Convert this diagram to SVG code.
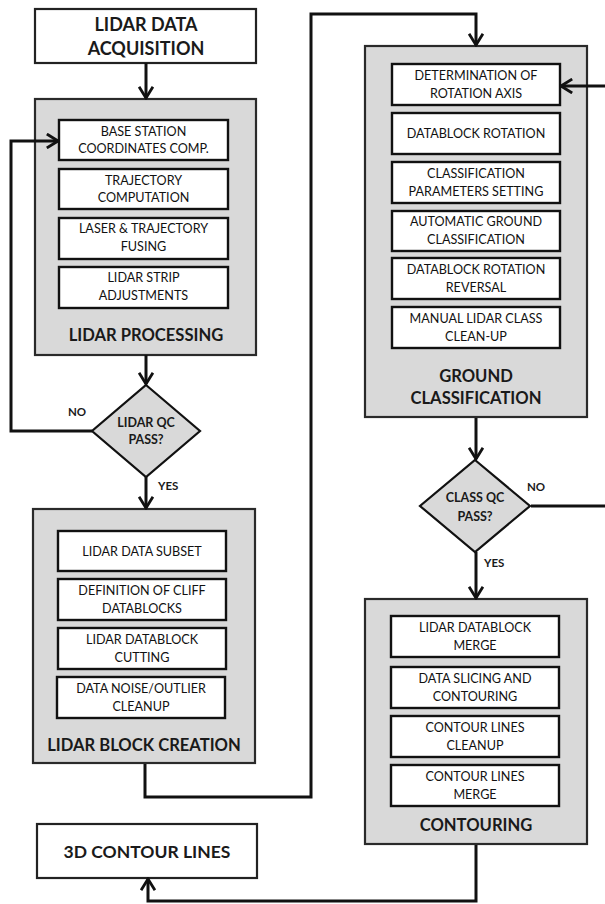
<svg xmlns="http://www.w3.org/2000/svg" width="605" height="904" viewBox="0 0 605 904">
  <defs>
    <marker id="arrow" viewBox="0 0 14 16" refX="12" refY="8" markerWidth="14" markerHeight="16" markerUnits="userSpaceOnUse" orient="auto">
      <path d="M2,1.8 L12,8 L2,14.2" fill="none" stroke="#111" stroke-width="2.8" stroke-linecap="square" stroke-linejoin="miter"/>
    </marker>
  </defs>
  <style>
    .bg { fill: #ffffff; }
    .term { fill: #ffffff; stroke: #222; stroke-width: 2.2; }
    .stage { fill: #d9d9d9; stroke: #2a2a2a; stroke-width: 2.2; }
    .step { fill: #ffffff; stroke: #111; stroke-width: 2.4; }
    .dec { fill: #d9d9d9; stroke: #111; stroke-width: 2.2; }
    .wire { fill: none; stroke: #111; stroke-width: 3; stroke-linejoin: miter; }
    text { font-family: Lato, "Open Sans", "Liberation Sans", sans-serif; fill: #1a1a1a; text-anchor: middle; }
    .big { font-size: 18px; font-weight: 700; }
    .title { font-size: 16.6px; font-weight: 700; }
    .end { font-size: 17.5px; font-weight: 700; }
    .lbl { font-size: 12.6px; font-weight: 400; fill: #111; }
    .q { font-size: 12.5px; font-weight: 700; }
    .yn { font-size: 11.5px; font-weight: 700; text-anchor: start; }
  </style>

  <rect class="bg" x="0" y="0" width="605" height="904"/>

  <!-- start -->
  <g id="acquisition">
    <rect class="term" x="35" y="9" width="221" height="54"/>
    <text class="big" x="146" y="31">LIDAR DATA</text>
    <text class="big" x="146" y="55">ACQUISITION</text>
  </g>

  <!-- stage 1 -->
  <g id="lidar-processing">
    <rect class="stage" x="35" y="99" width="221" height="256"/>
    <text class="title" x="146" y="341">LIDAR PROCESSING</text>
  </g>
  <g id="base-station">
    <rect class="step" x="59" y="120" width="169" height="40"/>
    <text class="lbl" x="143.5" y="136">BASE STATION</text>
    <text class="lbl" x="143.5" y="153">COORDINATES COMP.</text>
  </g>
  <g id="trajectory">
    <rect class="step" x="59" y="169" width="169" height="40"/>
    <text class="lbl" x="143.5" y="185">TRAJECTORY</text>
    <text class="lbl" x="143.5" y="202">COMPUTATION</text>
  </g>
  <g id="fusing">
    <rect class="step" x="59" y="218" width="169" height="41"/>
    <text class="lbl" x="143.5" y="233">LASER &amp; TRAJECTORY</text>
    <text class="lbl" x="143.5" y="251">FUSING</text>
  </g>
  <g id="strip-adjust">
    <rect class="step" x="59" y="267" width="169" height="41"/>
    <text class="lbl" x="143.5" y="282">LIDAR STRIP</text>
    <text class="lbl" x="143.5" y="300">ADJUSTMENTS</text>
  </g>

  <!-- decision 1 -->
  <g id="lidar-qc">
    <polygon class="dec" points="146,385 200,431 146,477 92,431"/>
    <text class="q" x="146" y="427">LIDAR QC</text>
    <text class="q" x="146" y="444">PASS?</text>
    <text class="yn" x="68" y="416">NO</text>
    <text class="yn" x="158" y="490">YES</text>
  </g>

  <!-- stage 2 -->
  <g id="block-creation">
    <rect class="stage" x="33" y="509" width="222" height="254"/>
    <text class="title" x="144" y="751">LIDAR BLOCK CREATION</text>
  </g>
  <g id="data-subset">
    <rect class="step" x="58" y="531" width="168" height="40"/>
    <text class="lbl" x="142" y="556">LIDAR DATA SUBSET</text>
  </g>
  <g id="cliff-datablocks">
    <rect class="step" x="58" y="579" width="168" height="41"/>
    <text class="lbl" x="142" y="595">DEFINITION OF CLIFF</text>
    <text class="lbl" x="142" y="613">DATABLOCKS</text>
  </g>
  <g id="datablock-cutting">
    <rect class="step" x="58" y="628" width="168" height="41"/>
    <text class="lbl" x="142" y="644">LIDAR DATABLOCK</text>
    <text class="lbl" x="142" y="662">CUTTING</text>
  </g>
  <g id="noise-cleanup">
    <rect class="step" x="57" y="677" width="168" height="41"/>
    <text class="lbl" x="141" y="693">DATA NOISE/OUTLIER</text>
    <text class="lbl" x="141" y="711">CLEANUP</text>
  </g>

  <!-- stage 3 -->
  <g id="ground-classification">
    <rect class="stage" x="365" y="46" width="222" height="371"/>
    <text class="title" x="476" y="382">GROUND</text>
    <text class="title" x="476" y="404">CLASSIFICATION</text>
  </g>
  <g id="rotation-axis">
    <rect class="step" x="392" y="64" width="168" height="41"/>
    <text class="lbl" x="476" y="80">DETERMINATION OF</text>
    <text class="lbl" x="476" y="98">ROTATION AXIS</text>
  </g>
  <g id="rotation">
    <rect class="step" x="392" y="113" width="168" height="41"/>
    <text class="lbl" x="476" y="138">DATABLOCK ROTATION</text>
  </g>
  <g id="param-setting">
    <rect class="step" x="392" y="162" width="168" height="41"/>
    <text class="lbl" x="476" y="178">CLASSIFICATION</text>
    <text class="lbl" x="476" y="196">PARAMETERS SETTING</text>
  </g>
  <g id="auto-ground">
    <rect class="step" x="392" y="211" width="168" height="40"/>
    <text class="lbl" x="476" y="226">AUTOMATIC GROUND</text>
    <text class="lbl" x="476" y="244">CLASSIFICATION</text>
  </g>
  <g id="rotation-reversal">
    <rect class="step" x="392" y="258" width="168" height="41"/>
    <text class="lbl" x="476" y="274">DATABLOCK ROTATION</text>
    <text class="lbl" x="476" y="292">REVERSAL</text>
  </g>
  <g id="manual-cleanup">
    <rect class="step" x="392" y="307" width="168" height="41"/>
    <text class="lbl" x="476" y="323">MANUAL LIDAR CLASS</text>
    <text class="lbl" x="476" y="341">CLEAN-UP</text>
  </g>

  <!-- decision 2 -->
  <g id="class-qc">
    <polygon class="dec" points="475,460 530,506 475,552 420,506"/>
    <text class="q" x="475" y="502">CLASS QC</text>
    <text class="q" x="475" y="521">PASS?</text>
    <text class="yn" x="527" y="491">NO</text>
    <text class="yn" x="484" y="567">YES</text>
  </g>

  <!-- stage 4 -->
  <g id="contouring">
    <rect class="stage" x="365" y="599" width="222" height="245"/>
    <text class="title" x="476" y="831">CONTOURING</text>
  </g>
  <g id="block-merge">
    <rect class="step" x="391" y="616" width="168" height="41"/>
    <text class="lbl" x="475" y="632">LIDAR DATABLOCK</text>
    <text class="lbl" x="475" y="650">MERGE</text>
  </g>
  <g id="slicing">
    <rect class="step" x="391" y="667" width="168" height="41"/>
    <text class="lbl" x="475" y="683">DATA SLICING AND</text>
    <text class="lbl" x="475" y="701">CONTOURING</text>
  </g>
  <g id="lines-cleanup">
    <rect class="step" x="391" y="716" width="168" height="41"/>
    <text class="lbl" x="475" y="732">CONTOUR LINES</text>
    <text class="lbl" x="475" y="750">CLEANUP</text>
  </g>
  <g id="lines-merge">
    <rect class="step" x="391" y="765" width="168" height="41"/>
    <text class="lbl" x="475" y="781">CONTOUR LINES</text>
    <text class="lbl" x="475" y="799">MERGE</text>
  </g>

  <!-- end -->
  <g id="contour-lines-3d">
    <rect class="term" x="37" y="824" width="220" height="54"/>
    <text class="end" x="147" y="858">3D CONTOUR LINES</text>
  </g>

  <!-- connectors, drawn last so they sit over the stage panels -->
  <g id="connectors">
    <line class="wire" x1="146" y1="63" x2="146" y2="98" marker-end="url(#arrow)"/>
    <line class="wire" x1="146" y1="355" x2="146" y2="384" marker-end="url(#arrow)"/>
    <polyline class="wire" points="92,431 11,431 11,141 58,141" marker-end="url(#arrow)"/>
    <line class="wire" x1="146" y1="477" x2="146" y2="508" marker-end="url(#arrow)"/>
    <polyline class="wire" points="145,764 145,797 311,797 311,14 476,14 476,45" marker-end="url(#arrow)"/>
    <line class="wire" x1="476" y1="418" x2="476" y2="459" marker-end="url(#arrow)"/>
    <polyline class="wire" points="531,506 606,506"/>
    <line class="wire" x1="606" y1="86" x2="561" y2="86" marker-end="url(#arrow)"/>
    <line class="wire" x1="476" y1="552" x2="476" y2="598" marker-end="url(#arrow)"/>
    <polyline class="wire" points="476,845 476,901 148,901 148,879" marker-end="url(#arrow)"/>
  </g>
</svg>
